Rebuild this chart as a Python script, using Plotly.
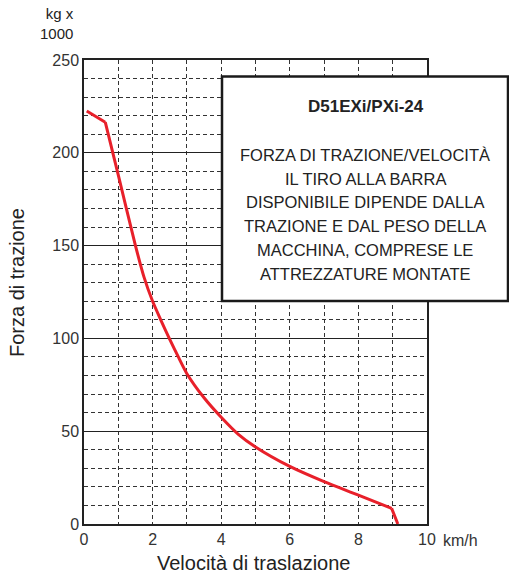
import plotly.graph_objects as go

# Data
speed = [0.08, 0.62, 1.0, 1.5, 1.75, 2.0, 2.25, 2.5, 2.75, 3.0, 3.5, 4.0, 4.5, 5.0, 6.0, 7.0, 8.0, 8.97, 9.15]
force = [222.5, 216.5, 188, 150, 133, 120, 109.5, 99.5, 90, 81, 68, 57.5, 48.3, 41.5, 31, 22.8, 15.6, 8.4, 0]

x_tickvals = [0, 2, 4, 6, 8, 10]
x_ticktext = ["0", "2", "4", "6", "8", "10"]
y_tickvals = [0, 50, 100, 150, 200, 250]

box_title = "D51EXi/PXi-24"
box_lines = [
    "FORZA DI TRAZIONE/VELOCITÀ",
    "IL TIRO ALLA BARRA",
    "DISPONIBILE DIPENDE DALLA",
    "TRAZIONE E DAL PESO DELLA",
    "MACCHINA, COMPRESE LE",
    "ATTREZZATURE MONTATE",
]

FONT = "Liberation Sans, Arial, sans-serif"
RED = "#e8202a"
W, H = 509, 574
L, R, T, B = 84, 427, 60, 524
pw, ph = R - L, B - T


def px(x):
    return (x - L) / pw


def py(y):
    return (B - y) / ph


fig = go.Figure()
# straight first segment, smooth middle, straight last segment (sharp corners)
segments = [
    (speed[:2], force[:2], "linear"),
    (speed[1:-1], force[1:-1], "spline"),
    (speed[-2:], force[-2:], "linear"),
]
for xs, ys, shp in segments:
    line = dict(color=RED, width=3, shape=shp)
    if shp == "spline":
        line["smoothing"] = 0.7
    fig.add_trace(go.Scatter(x=xs, y=ys, mode="lines", line=line,
                             hoverinfo="skip", showlegend=False))

fig.update_layout(
    width=W, height=H,
    margin=dict(l=L, r=W - R, t=T, b=H - B),
    paper_bgcolor="white", plot_bgcolor="white",
    font=dict(family=FONT, color="#222", size=16),
    showlegend=False,
)

fig.update_xaxes(
    range=[0, 10], tickvals=x_tickvals, ticktext=x_ticktext,
    showgrid=True, gridcolor="#333", griddash="4px,3px", gridwidth=1,
    minor=dict(dtick=1, showgrid=True, gridcolor="#333", griddash="4px,3px", gridwidth=1),
    showline=True, linecolor="#222", linewidth=1.5, mirror=True,
    ticks="", zeroline=False, tickfont=dict(size=16, color="#333"),
)
fig.update_yaxes(
    range=[0, 250], tickvals=y_tickvals,
    showgrid=True, gridcolor="#222", gridwidth=1.3,
    minor=dict(dtick=10, showgrid=True, gridcolor="#333", griddash="4px,3px", gridwidth=1),
    showline=True, linecolor="#222", linewidth=1.5, mirror=True,
    ticks="", zeroline=False, tickfont=dict(size=16, color="#333"),
)

# Info box
fig.add_shape(type="rect", xref="paper", yref="paper",
              x0=px(222), x1=px(508), y0=py(301), y1=py(76.5),
              fillcolor="white", line=dict(color="#1a1a1a", width=2.5), layer="above")

fig.add_annotation(xref="paper", yref="paper", x=px(366), y=py(106.7),
                   text="<b>" + box_title + "</b>", showarrow=False,
                   font=dict(size=17, color="#222", family=FONT),
                   xanchor="center", yanchor="middle")
line_y = [155, 178.5, 202, 225.7, 250, 274]
for t, yy in zip(box_lines, line_y):
    fig.add_annotation(xref="paper", yref="paper", x=px(365), y=py(yy),
                       text=t, showarrow=False,
                       font=dict(size=16.5, color="#222", family=FONT),
                       xanchor="center", yanchor="middle")

# Axis titles and units
fig.add_annotation(xref="paper", yref="paper", x=px(253), y=py(563),
                   text="Velocità di traslazione", showarrow=False,
                   font=dict(size=20, color="#222"), xanchor="center", yanchor="middle")
fig.add_annotation(xref="paper", yref="paper", x=px(17), y=py(283),
                   text="Forza di trazione", showarrow=False, textangle=-90,
                   font=dict(size=20, color="#222"), xanchor="center", yanchor="middle")
fig.add_annotation(xref="paper", yref="paper", x=px(76), y=py(24),
                   text="kg x<br>1000", showarrow=False, align="right",
                   font=dict(size=15, color="#222"), xanchor="right", yanchor="middle")
fig.add_annotation(xref="paper", yref="paper", x=px(441), y=py(540),
                   text="km/h", showarrow=False,
                   font=dict(size=16, color="#333"), xanchor="left", yanchor="middle")

fig.write_html("out.html", config={"displayModeBar": False},
               post_script="document.body.style.margin='0px';")
